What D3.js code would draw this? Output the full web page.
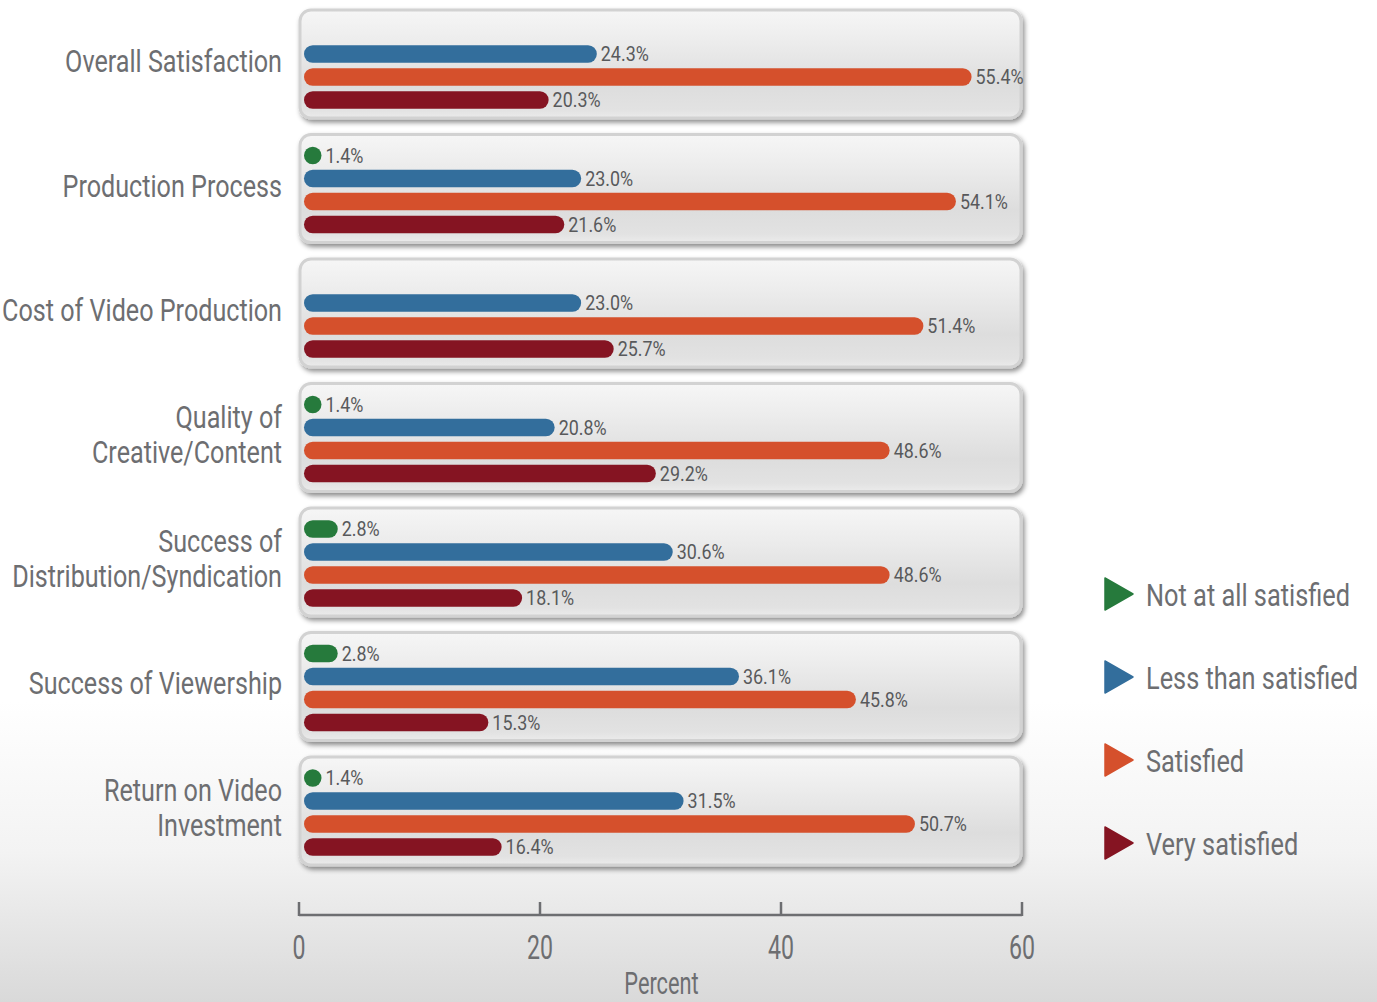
<!DOCTYPE html>
<html>
<head>
<meta charset="utf-8">
<script src="https://cdn.jsdelivr.net/npm/d3@7"></script>
<style>
  html, body { margin: 0; padding: 0; background: #fff; }
  svg { display: block; }
  text { font-family: "Roboto", "Liberation Sans", sans-serif; }
</style>
</head>
<body>
<svg id="chart" width="1377" height="1002"></svg>
<script>
// Survey: satisfaction with aspects of online video
const categories = [
  "Overall Satisfaction",
  "Production Process",
  "Cost of Video Production",
  "Quality of\nCreative/Content",
  "Success of\nDistribution/Syndication",
  "Success of Viewership",
  "Return on Video\nInvestment"
];
const seriesNames = ["Not at all satisfied", "Less than satisfied", "Satisfied", "Very satisfied"];
const notAtAll    = [null, 1.4, null, 1.4, 2.8, 2.8, 1.4];
const lessThan    = [24.3, 23.0, 23.0, 20.8, 30.6, 36.1, 31.5];
const satisfied   = [55.4, 54.1, 51.4, 48.6, 48.6, 45.8, 50.7];
const verySat     = [20.3, 21.6, 25.7, 29.2, 18.1, 15.3, 16.4];
const xTicks = [0, 20, 40, 60];
const colors = ["#267a3c", "#336e9c", "#d5502c", "#851422"];

const seriesValues = [notAtAll, lessThan, satisfied, verySat];

const svg = d3.select("#chart");
const W = 1377, H = 1002;
const textColor = "#6d6e71";

// Condensed look: measure a sample string and squeeze every text of that
// style by the same horizontal factor (applied as a transform).
function squeezeFactor(sample, size, targetWidth) {
  const t = svg.append("text").attr("font-size", size).text(sample);
  const w = t.node().getComputedTextLength();
  t.remove();
  return targetWidth / w;
}
function condense(sel, k) {
  sel.each(function () {
    const s = d3.select(this);
    const tx = +s.attr("x") || 0, ty = +s.attr("y") || 0;
    s.attr("x", 0).attr("y", 0)
      .attr("transform", `translate(${tx},${ty}) scale(${k},1)`);
  });
}

const catSize = 31, valSize = 20.5, tickSize = 34, legSize = 32;
const kCat = squeezeFactor("Overall Satisfaction", catSize, 217);
const kVal = squeezeFactor("24.3%", valSize, 48);
const kTick = squeezeFactor("20", tickSize, 26);
const kLeg = squeezeFactor("Less than satisfied", legSize, 212);

const defs = svg.append("defs");

// page background: white fading to light grey near the bottom
const bg = defs.append("linearGradient").attr("id", "bg").attr("x1", 0).attr("y1", 0).attr("x2", 0).attr("y2", 1);
bg.append("stop").attr("offset", "0%").attr("stop-color", "#ffffff");
bg.append("stop").attr("offset", "70%").attr("stop-color", "#ffffff");
bg.append("stop").attr("offset", "85%").attr("stop-color", "#f3f3f3");
bg.append("stop").attr("offset", "100%").attr("stop-color", "#d9d9d9");
svg.append("rect").attr("width", W).attr("height", H).attr("fill", "url(#bg)");

// panel gloss
const pg = defs.append("linearGradient").attr("id", "panel").attr("x1", 0).attr("y1", 0).attr("x2", 0).attr("y2", 1);
pg.append("stop").attr("offset", "0%").attr("stop-color", "#f6f6f6");
pg.append("stop").attr("offset", "30%").attr("stop-color", "#ececec");
pg.append("stop").attr("offset", "70%").attr("stop-color", "#dddddd");
pg.append("stop").attr("offset", "92%").attr("stop-color", "#e2e2e2");
pg.append("stop").attr("offset", "100%").attr("stop-color", "#ebebeb");

const sh = defs.append("filter").attr("id", "shadow").attr("x", "-5%").attr("y", "-20%").attr("width", "112%").attr("height", "150%");
sh.append("feDropShadow").attr("dx", 2).attr("dy", 3).attr("stdDeviation", 2.5)
  .attr("flood-color", "#000").attr("flood-opacity", 0.45);

// scales
const x = d3.scaleLinear().domain([0, 60]).range([299, 1022]);
const y = d3.scaleBand().domain(categories).range([10, 865]).paddingInner(0.1325).paddingOuter(0);
const ys = d3.scaleBand().domain(seriesNames).range([9.5, 101.5]).paddingInner(0.24).paddingOuter(0.12);

const panelX0 = 300, panelX1 = 1021;

const groups = svg.append("g").selectAll("g.cat")
  .data(categories)
  .join("g")
  .attr("class", "cat")
  .attr("transform", d => `translate(0,${y(d)})`);

groups.append("rect")
  .attr("x", panelX0).attr("y", 0)
  .attr("width", panelX1 - panelX0).attr("height", y.bandwidth())
  .attr("rx", 11).attr("ry", 11)
  .attr("fill", "url(#panel)")
  .attr("stroke", "#d2d2d2").attr("stroke-width", 3)
  .attr("filter", "url(#shadow)");

// bars and value labels
const bh = ys.bandwidth();
groups.each(function (cat, ci) {
  const g = d3.select(this);
  seriesNames.forEach((s, si) => {
    const v = seriesValues[si][ci];
    if (v == null) return;
    const x0 = x(0) + 5;
    const w = Math.max(x(v) - x(0), bh);
    g.append("rect")
      .attr("x", x0).attr("y", ys(s))
      .attr("width", w).attr("height", bh)
      .attr("rx", bh / 2).attr("ry", bh / 2)
      .attr("fill", colors[si]);
    g.append("text")
      .attr("class", "val")
      .attr("x", x0 + w + 4).attr("y", ys(s) + bh / 2 + 7.3)
      .attr("font-size", valSize)
      .attr("fill", "#58595b")
      .text(v.toFixed(1) + "%");
  });
});
condense(svg.selectAll("text.val"), kVal);

// category labels
groups.each(function (cat) {
  const lines = cat.split("\n");
  const g = d3.select(this);
  const cy = y.bandwidth() / 2 - 3;
  const lh = 35;
  lines.forEach((ln, i) => {
    g.append("text")
      .attr("class", "catlab")
      .attr("x", 282)
      .attr("y", cy + (i - (lines.length - 1) / 2) * lh + 11)
      .attr("text-anchor", "end")
      .attr("font-size", catSize)
      .attr("fill", textColor)
      .text(ln);
  });
});
condense(svg.selectAll("text.catlab"), kCat);

// x axis
const axisY = 915;
const ax = svg.append("g").attr("transform", `translate(0,${axisY})`);
ax.append("line").attr("x1", x(0)).attr("x2", x(60)).attr("stroke", "#6d6e71").attr("stroke-width", 2.5);
ax.selectAll("line.tick").data(xTicks).join("line")
  .attr("class", "tick")
  .attr("x1", d => x(d)).attr("x2", d => x(d))
  .attr("y1", 1).attr("y2", -13)
  .attr("stroke", "#6d6e71").attr("stroke-width", 2.5);
ax.selectAll("text.tl").data(xTicks).join("text")
  .attr("class", "tl")
  .attr("x", d => x(d)).attr("y", 44)
  .attr("text-anchor", "middle")
  .attr("font-size", tickSize)
  .attr("fill", textColor)
  .text(d => d);
condense(ax.selectAll("text.tl"), kTick);
const pct = svg.append("text")
  .attr("x", (x(0) + x(60)) / 2 + 1).attr("y", 994)
  .attr("text-anchor", "middle")
  .attr("font-size", 32)
  .attr("fill", textColor)
  .text("Percent");
condense(pct, kTick);

// legend
const legY = d3.scalePoint().domain(seriesNames).range([594, 843]);
const leg = svg.append("g").selectAll("g").data(seriesNames).join("g")
  .attr("transform", d => `translate(1105,${legY(d)})`);
leg.append("path")
  .attr("d", "M0,-16 L28,0 L0,16 Z")
  .attr("fill", (d, i) => colors[i])
  .attr("stroke", (d, i) => colors[i]).attr("stroke-width", 1.5).attr("stroke-linejoin", "round");
leg.append("text")
  .attr("class", "leglab")
  .attr("x", 41).attr("y", 11.5)
  .attr("font-size", legSize)
  .attr("fill", textColor)
  .text(d => d);
condense(leg.selectAll("text.leglab"), kLeg);
</script>
</body>
</html>
